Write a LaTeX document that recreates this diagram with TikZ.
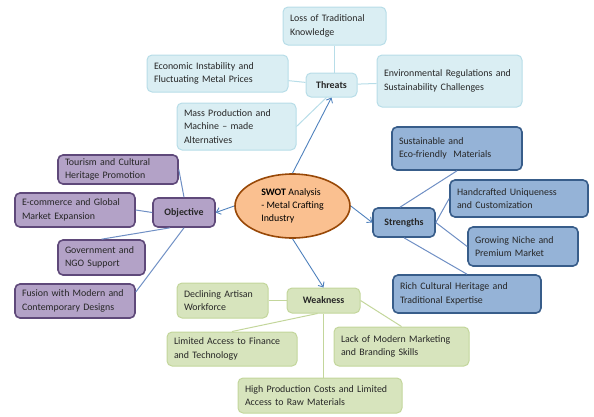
\documentclass[tikz,border=0pt]{standalone}
\usepackage{fontspec}
\setmainfont{Carlito}
\usepackage{tikz}
\usetikzlibrary{shapes.geometric, arrows.meta}
\usetikzlibrary{positioning}

\definecolor{thrfill}{HTML}{DAEEF3}
\definecolor{thrline}{HTML}{B7DDE8}
\definecolor{strfill}{HTML}{95B3D7}
\definecolor{strline}{HTML}{385D8A}
\definecolor{objfill}{HTML}{B3A2C7}
\definecolor{objline}{HTML}{5F497A}
\definecolor{wkfill}{HTML}{D7E4BD}
\definecolor{wkline}{HTML}{C3D69B}
\definecolor{swotfill}{HTML}{FAC090}
\definecolor{swotline}{HTML}{984807}
\definecolor{arrline}{HTML}{4F81BD}
\definecolor{linkline}{HTML}{6F8FC4}

\newcommand{\bodyfont}{\fontsize{9.9}{13.3}\selectfont}
\tikzstyle{arrow} = [draw=arrline, line width=0.9pt, -{Straight Barb[length=4pt,width=7pt]}]

\begin{document}
\begin{tikzpicture}[x=1pt, y=-1pt,
    every node/.style={font=\bodyfont}]

    \tikzstyle{box}=[rectangle, rounded corners=5pt, align=left, inner xsep=7pt, inner ysep=2pt, text=black!85]
    \tikzstyle{thrbox}=[box, draw=thrline, fill=thrfill, line width=1pt]
    \tikzstyle{strbox}=[box, draw=strline, fill=strfill, line width=1.6pt]
    \tikzstyle{objbox}=[box, draw=objline, fill=objfill, line width=1.6pt]
    \tikzstyle{wkbox}=[box, draw=wkline, fill=wkfill, line width=1pt]
    \tikzstyle{head}=[align=center, font=\bodyfont\bfseries, inner sep=0pt]
    \tikzstyle{thrlink}=[draw=thrline, line width=1pt]
    \tikzstyle{strlink}=[draw=linkline, line width=1pt]
    \tikzstyle{wklink}=[draw=wkline, line width=1pt]

    \useasboundingbox (0,0) rectangle (594,416);

    \node[ellipse, draw=swotline, fill=swotfill, line width=1.6pt, minimum width=115pt, minimum height=64pt, inner sep=0pt, align=left] (swot) at (292.5,206) {\textbf{SWOT} Analysis\\- Metal Crafting\\Industry};

    % threats
    \node[thrbox, head, minimum width=51pt, minimum height=24pt] (threats) at (331.5,85) {Threats};
    \node[thrbox, text width=89pt, minimum height=38pt] (loss) at (334.5,26) {Loss of Traditional\\Knowledge};
    \node[thrbox, text width=127pt, minimum height=37pt] (econ) at (217.5,73.5) {Economic Instability and\\Fluctuating Metal Prices};
    \node[thrbox, text width=131pt, minimum height=52pt] (env) at (449.5,81) {Environmental Regulations and\\Sustainability Challenges};
    \node[thrbox, text width=105pt, minimum height=47pt] (mass) at (236.5,126.5) {Mass Production and\\Machine -- made\\Alternatives};

    \draw[thrlink] (loss) -- (loss |- threats.north);
    \draw[thrlink] (econ) -- (threats);
    \draw[thrlink] (threats) -- (env);
    \draw[thrlink] (mass.east) -- ([xshift=-5pt]threats.south);

    % strengths
    \node[strbox, head, minimum width=62pt, minimum height=29pt] (strengths) at (404,222.5) {Strengths};
    \node[strbox, text width=116pt, minimum height=43pt] (sust) at (457,148.5) {Sustainable and\\Eco-friendly~ Materials};
    \node[strbox, text width=124pt, minimum height=37pt] (hand) at (519,198.5) {Handcrafted Uniqueness\\and Customization};
    \node[strbox, text width=96pt, minimum height=39pt] (niche) at (523,246.5) {Growing Niche and\\Premium Market};
    \node[strbox, text width=134pt, minimum height=38pt] (rich) at (467,294) {Rich Cultural Heritage and\\Traditional Expertise};

    \draw[strlink] ([xshift=-4pt]strengths.north) -- (sust.south);
    \draw[strlink] (strengths.east) -- (hand.west);
    \draw[strlink] (strengths.east) -- (niche.west);
    \draw[strlink] (strengths.south) -- (rich.north);

    % objective
    \node[objbox, head, minimum width=62pt, minimum height=29pt] (objective) at (184,212.5) {Objective};
    \node[objbox, text width=106pt, minimum height=29pt] (tour) at (118,169.5) {Tourism and Cultural\\Heritage Promotion};
    \node[objbox, text width=106pt, minimum height=34pt] (ecom) at (75,210) {E-commerce and Global\\Market Expansion};
    \node[objbox, text width=73pt, minimum height=35pt] (gov) at (101.5,257.5) {Government and\\NGO Support};
    \node[objbox, text width=106pt, minimum height=34pt] (fusion) at (75,301) {Fusion with Modern and\\Contemporary Designs};

    \draw[strlink] (objective.north) -- (tour.east);
    \draw[strlink] (ecom.east) -- (objective.west);
    \draw[strlink] (gov.north) -- ([xshift=-14pt]objective.south);
    \draw[strlink] ([yshift=9pt]fusion.east) -- (objective.south);

    % weakness
    \node[wkbox, head, minimum width=73pt, minimum height=25pt] (weakness) at (323.5,300.5) {Weakness};
    \node[wkbox, text width=77pt, minimum height=35pt] (declin) at (222.5,300.5) {Declining Artisan\\Workforce};
    \node[wkbox, text width=116pt, minimum height=34pt] (limacc) at (232,349) {Limited Access to Finance\\and Technology};
    \node[wkbox, text width=121pt, minimum height=39pt] (lackmkt) at (401.5,346.5) {Lack of Modern Marketing\\and Branding Skills};
    \node[wkbox, text width=150pt, minimum height=35pt] (highcost) at (320,395.5) {High Production Costs and Limited\\Access to Raw Materials};

    \draw[wklink] (declin.east) -- (weakness.west);
    \draw[wklink] (limacc.north) -- ([xshift=-6pt]weakness.south);
    \draw[wklink] (weakness.east) -- (lackmkt.north);
    \draw[wklink] (weakness.south) -- (weakness.south |- highcost.north);

    % arrows from the centre
    \draw[arrow] (swot.north) -- (threats.south);
    \draw[arrow] (swot.west) -- (objective.east);
    \draw[arrow] (swot.east) -- (strengths.west);
    \draw[arrow] (swot.south) -- (weakness.north);

    \end{tikzpicture}
\end{document}
